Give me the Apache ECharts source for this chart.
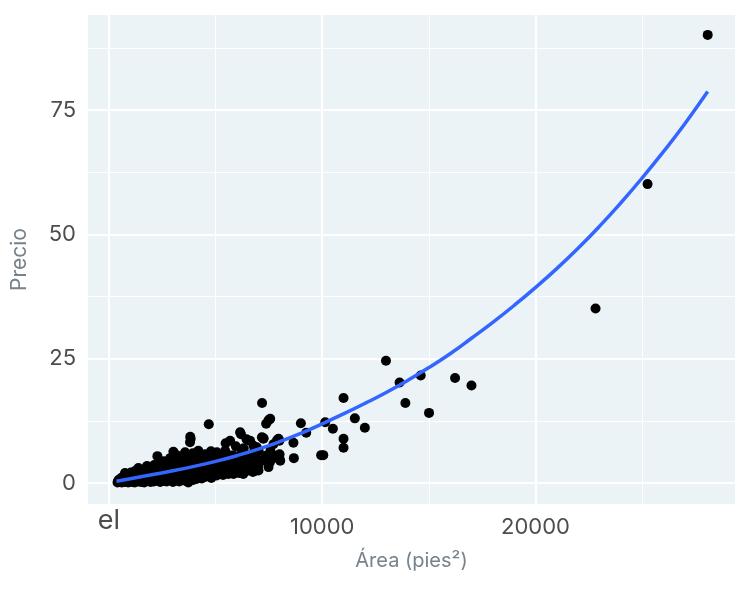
<!DOCTYPE html>
<html>
<head>
<meta charset="utf-8">
<script src="https://cdn.jsdelivr.net/npm/echarts@6/dist/echarts.min.js"></script>
<style>
    html, body { margin: 0; padding: 0; background: #fff; }
    #chart { width: 750px; height: 600px; }
</style>
</head>
<body>
<div id="chart"></div>
<script>
// puntos: [area (pies²), precio]
var puntos = [
    [400,0.1],[420,0.3],[450,0.6],[520,0.2],[540,0.9],[600,0.1],[620,0.5],[640,1.2],
    [750,0.2],[760,0.7],[750,2.0],[900,0.1],[880,0.5],[910,1.1],[920,1.6],
    [1000,0.3],[1020,0.8],[990,1.4],[1030,2.1],[1100,0.2],[1120,0.6],[1090,1.0],[1110,1.8],
    [1200,0.1],[1210,0.5],[1190,1.2],[1220,2.4],[1350,0.3],[1340,0.9],[1360,1.6],[1380,3.0],
    [1500,0.2],[1490,0.6],[1510,1.1],[1520,1.9],[1500,2.6],[1650,0.1],[1660,0.7],[1640,1.3],[1650,2.2],
    [1800,0.4],[1790,1.0],[1810,1.7],[1800,2.8],[1780,3.4],[1950,0.2],[1940,0.8],[1960,1.4],[1950,2.3],
    [2100,0.3],[2110,0.9],[2090,1.6],[2100,2.5],[2120,3.6],[2270,0.5],[2260,1.2],[2280,2.0],[2250,3.0],[2270,5.4],
    [2400,0.2],[2410,0.8],[2390,1.5],[2400,2.6],[2420,4.0],[2550,0.4],[2540,1.1],[2560,1.9],[2550,3.2],[2570,4.4],
    [2700,0.3],[2710,0.9],[2690,1.7],[2700,2.7],[2720,3.8],[2850,0.6],[2840,1.4],[2860,2.3],[2850,3.5],[2870,5.0],
    [3000,0.2],[3010,1.0],[2990,2.0],[3000,3.1],[3020,4.3],[3020,6.3],[3150,0.5],[3140,1.3],[3160,2.5],[3150,3.9],[3170,5.6],
    [3300,0.3],[3310,1.1],[3290,1.8],[3300,2.9],[3320,4.6],[3450,0.7],[3440,1.6],[3460,2.6],[3450,3.6],[3470,5.2],
    [3600,0.4],[3610,1.2],[3590,2.2],[3600,3.3],[3620,4.8],[3570,6.2],[3720,0.1],[3730,0.9],[3710,1.9],[3720,2.8],[3740,4.1],[3700,5.6],
    [3800,1.4],[3810,3.0],[3790,4.5],[3800,8.2],[3830,8.9],[3810,9.3],[3950,0.6],[3960,1.7],[3940,2.6],[3950,3.8],[3970,5.0],[3930,6.0],
    [4100,0.8],[4110,1.5],[4090,2.4],[4100,3.4],[4120,4.6],[4080,5.4],[4200,1.1],[4210,2.0],[4190,3.1],[4200,4.2],[4190,6.5],
    [4350,0.9],[4360,1.8],[4340,2.8],[4350,3.9],[4370,5.1],[4500,1.2],[4510,2.2],[4490,3.3],[4500,4.4],[4520,5.8],
    [4680,1.4],[4670,2.5],[4690,3.6],[4680,4.8],[4680,11.8],[4800,1.0],[4810,2.0],[4790,3.0],[4800,4.2],[4820,5.5],[4780,6.4],
    [4900,1.8],[4910,2.9],[4900,4.8],[4890,3.8],[5050,1.5],[5060,2.6],[5040,3.5],[5050,4.5],[5060,6.2],
    [5200,1.9],[5210,3.1],[5190,4.0],[5200,5.3],[5350,1.6],[5360,2.4],[5340,3.4],[5350,4.6],[5370,5.9],
    [5450,2.1],[5460,3.0],[5450,6.5],[5470,8.0],[5600,1.8],[5610,2.8],[5590,3.9],[5600,5.0],[5680,8.5],
    [5800,2.2],[5810,3.3],[5790,4.4],[5800,5.6],[5840,1.8],[5950,2.6],[5960,3.7],[5940,4.9],[5950,7.4],
    [6100,2.0],[6110,3.1],[6090,4.2],[6100,5.2],[6150,10.2],[6200,2.2],[6210,6.0],[6190,9.8],[6300,2.8],[6310,3.8],[6300,1.8],[6320,7.0],
    [6450,2.4],[6460,3.5],[6440,4.6],[6450,8.8],[6600,3.0],[6610,4.3],[6590,5.5],[6620,8.5],[6750,2.2],[6760,3.2],[6740,6.0],[6780,7.5],
    [6900,2.5],[6910,4.0],[6890,5.0],[6930,7.2],[7010,2.5],[7000,3.5],[7020,6.4],[7170,9.2],[7180,16.1],[7150,4.5],
    [7240,8.9],[7250,9.0],[7370,11.9],[7360,5.5],[7480,12.6],[7480,3.2],[7560,12.9],[7550,4.2],[7570,6.5],[7700,5.0],[7710,7.8],
    [7870,5.5],[7880,8.6],[7950,8.9],[7990,8.5],[8000,5.8],[7990,5.0],[8030,4.5],[8650,8.1],[8670,5.0],[9000,12.0],[9250,10.1],
    [9950,5.6],[10050,5.6],[10140,12.2],[10500,10.9],[11000,17.1],[11000,8.9],[11000,7.1],[11530,13.0],[12000,11.1],
    [12990,24.6],[13630,20.2],[13900,16.1],[14620,21.6],[15010,14.1],[16230,21.1],[17000,19.6],[22820,35.1],[25260,60.1],[28080,90.1]
];

// curva ajustada
var curva = [
    [350,0.35],[1000,0.85],[2000,1.65],[3000,2.45],[4000,3.35],[5000,4.35],[6000,5.5],[7000,6.8],[8000,8.3],
    [9000,10.0],[10000,11.9],[11000,13.9],[12000,16.0],[13000,18.2],[14000,20.6],[15000,23.2],[16000,26.0],
    [17000,29.1],[18000,32.3],[19000,35.7],[20000,39.3],[21000,43.1],[22000,47.2],[23000,51.6],[24000,56.3],
    [25000,61.3],[26000,66.6],[27000,72.2],[28080,78.7]
];

var xTicks = [0, 10000, 20000];
var xMinor = [5000, 15000, 25000];
var yTicks = [0, 25, 50, 75];
var yMinor = [12.5, 37.5, 62.5, 87.5];

var chart = echarts.init(document.getElementById('chart'));

var lineasGrid = [];
xMinor.forEach(function (v) { lineasGrid.push({xAxis: v, lineStyle: {width: 1.1}}); });
yMinor.forEach(function (v) { lineasGrid.push({yAxis: v, lineStyle: {width: 1.1}}); });
xTicks.forEach(function (v) { lineasGrid.push({xAxis: v, lineStyle: {width: 2.2}}); });
yTicks.forEach(function (v) { lineasGrid.push({yAxis: v, lineStyle: {width: 2.2}}); });

var option = {
    animation: false,
    textStyle: {fontFamily: 'Inter'},
    grid: {
        left: 88, right: 15, top: 15, bottom: 96,
        containLabel: false,
        outerBoundsMode: 'none',
        show: true, backgroundColor: '#EBF3F6', borderWidth: 0
    },
    xAxis: {
        type: 'value',
        min: -985,
        max: 29360,
        name: 'Área (pies²)',
        nameLocation: 'middle',
        nameGap: 47,
        nameTextStyle: {color: '#77828b', fontSize: 20, fontFamily: 'Inter'},
        axisLine: {show: false},
        splitLine: {show: false},
        axisTick: {show: true, customValues: xTicks, length: 6, lineStyle: {color: '#333', width: 2}},
        axisLabel: {
            customValues: xTicks,
            margin: 12,
            color: '#4d4d4d',
            fontSize: 22,
            fontFamily: 'Inter',
            formatter: function (v) {
                if (v === 0) {
                    return '{big|el}';
                }
                return String(v);
            },
            rich: {
                big: {fontSize: 27, color: '#4d4d4d', fontFamily: 'Inter', lineHeight: 10}
            }
        }
    },
    yAxis: {
        type: 'value',
        min: -4.22,
        max: 94.1,
        name: 'Precio',
        nameLocation: 'middle',
        nameGap: 58,
        nameTextStyle: {color: '#77828b', fontSize: 21, fontFamily: 'Inter'},
        axisLine: {show: false},
        splitLine: {show: false},
        axisTick: {show: true, customValues: yTicks, length: 6, lineStyle: {color: '#333', width: 2}},
        axisLabel: {
            customValues: yTicks,
            margin: 12,
            color: '#4d4d4d',
            fontSize: 22,
            fontFamily: 'Inter'
        }
    },
    series: [
        {
            name: 'grid',
            type: 'line',
            data: [],
            silent: true,
            markLine: {
                z: 1,
                silent: true,
                symbol: ['none', 'none'],
                label: {show: false},
                lineStyle: {color: '#ffffff', type: 'solid'},
                data: lineasGrid
            }
        },
        {
            name: 'puntos',
            type: 'scatter',
            data: puntos,
            symbolSize: 10,
            itemStyle: {color: '#000000', opacity: 1},
            z: 3
        },
        {
            name: 'ajuste',
            type: 'line',
            data: curva,
            smooth: true,
            showSymbol: false,
            lineStyle: {color: '#3366FF', width: 3.5},
            z: 4
        }
    ]
};
chart.setOption(option);
</script>
</body>
</html>
